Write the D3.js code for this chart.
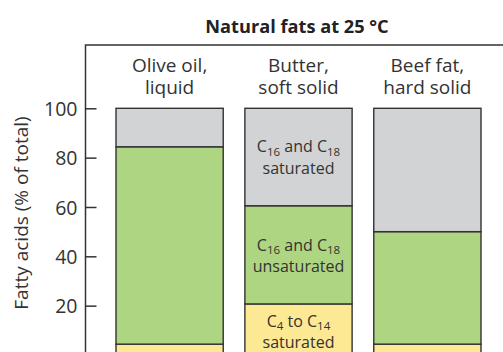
<!DOCTYPE html>
<html>
<head>
<meta charset="utf-8">
<script src="https://cdn.jsdelivr.net/npm/d3@7"></script>
<style>
  html, body { margin: 0; padding: 0; background: #fff; }
  svg { display: block; font-family: "Open Sans", sans-serif; }
</style>
</head>
<body>
<svg id="chart" width="503" height="352"></svg>
<script>
// Fatty acid composition (% of total) of three natural fats
const categories = ["Olive oil", "Butter", "Beef fat"];
const categoryLines = [["Olive oil,", "liquid"], ["Butter,", "soft solid"], ["Beef fat,", "hard solid"]];
const shortSaturated = [4.4, 20.7, 4.4];      // C4 to C14 saturated
const longUnsaturated = [80.0, 39.8, 45.6];   // C16 and C18 unsaturated
const longSaturated = [15.6, 39.5, 50.0];     // C16 and C18 saturated
const yTicks = [20, 40, 60, 80, 100];

const seriesKeys = ["short", "unsat", "sat"];
const seriesColors = { short: "#fde894", unsat: "#aed581", sat: "#d1d3d4" };

const rows = categories.map((c, i) => ({
  category: c,
  short: shortSaturated[i],
  unsat: longUnsaturated[i],
  sat: longSaturated[i]
}));

const svg = d3.select("#chart");
const ink = "#333";

const x = d3.scaleBand().domain(categories).range([116, 481]).paddingInner(0.168).paddingOuter(0);
const y = d3.scaleLinear().domain([0, 100]).range([355, 108.3]);

const stacked = d3.stack().keys(seriesKeys)(rows);

// stacked bars
svg.append("g")
  .selectAll("g")
  .data(stacked)
  .join("g")
  .attr("fill", d => seriesColors[d.key])
  .selectAll("rect")
  .data(d => d)
  .join("rect")
  .attr("x", d => x(d.data.category))
  .attr("width", x.bandwidth())
  .attr("y", d => y(d[1]))
  .attr("height", d => y(d[0]) - y(d[1]))
  .attr("stroke", ink)
  .attr("stroke-width", 1.4);

// frame: left and top rules
const frameLeft = 85.5, frameTop = 45;
svg.append("path")
  .attr("d", `M${frameLeft},360 V${frameTop} H510`)
  .attr("fill", "none")
  .attr("stroke", ink)
  .attr("stroke-width", 1.5);

// y axis with inward ticks
const yAxis = d3.axisRight(y).tickValues(yTicks).tickSize(11).tickFormat(d3.format("d"));
const gy = svg.append("g").attr("transform", `translate(${frameLeft},0)`).call(yAxis);
gy.select(".domain").remove();
gy.selectAll(".tick line").attr("stroke", ink).attr("stroke-width", 1.5);
gy.selectAll(".tick text")
  .attr("x", -8)
  .attr("dy", "0.36em")
  .attr("text-anchor", "end")
  .attr("fill", ink)
  .attr("font-size", 19.5)
  .attr("font-family", "'Open Sans', sans-serif");

// y axis title
svg.append("text")
  .attr("transform", `translate(28,213) rotate(-90)`)
  .attr("text-anchor", "middle")
  .attr("fill", ink)
  .attr("font-size", 19)
  .text("Fatty acids (% of total)");

// chart title
svg.append("text")
  .attr("x", 297)
  .attr("y", 33)
  .attr("text-anchor", "middle")
  .attr("fill", "#222")
  .attr("font-size", 18.2)
  .attr("font-weight", 700)
  .text("Natural fats at 25 °C");

// category headings
const heads = svg.append("g");
categories.forEach((c, i) => {
  categoryLines[i].forEach((line, j) => {
    heads.append("text")
      .attr("x", x(c) + x.bandwidth() / 2)
      .attr("y", 72 + j * 22)
      .attr("text-anchor", "middle")
      .attr("fill", ink)
      .attr("font-size", 19)
      .text(line);
  });
});

// segment labels on the butter bar, with subscripts
function label(cx, by, parts, second) {
  const t = svg.append("text")
    .attr("x", cx)
    .attr("y", by)
    .attr("text-anchor", "middle")
    .attr("fill", ink)
    .attr("font-size", 16);
  let lowered = false;
  parts.forEach(p => {
    if (p.sub) {
      t.append("tspan").attr("dy", lowered ? 0 : 3.5).attr("font-size", 11.5).text(p.sub);
      lowered = true;
    } else {
      t.append("tspan").attr("dy", lowered ? -3.5 : 0).text(p.t);
      lowered = false;
    }
  });
  svg.append("text")
    .attr("x", cx)
    .attr("y", by + 21.5)
    .attr("text-anchor", "middle")
    .attr("fill", ink)
    .attr("font-size", 16)
    .text(second);
}
const bx = x("Butter") + x.bandwidth() / 2;
label(bx, 152, [{ t: "C" }, { sub: "16" }, { t: " and C" }, { sub: "18" }], "saturated");
label(bx, 250.5, [{ t: "C" }, { sub: "16" }, { t: " and C" }, { sub: "18" }], "unsaturated");
label(bx, 326.5, [{ t: "C" }, { sub: "4" }, { t: " to C" }, { sub: "14" }], "saturated");
</script>
</body>
</html>
